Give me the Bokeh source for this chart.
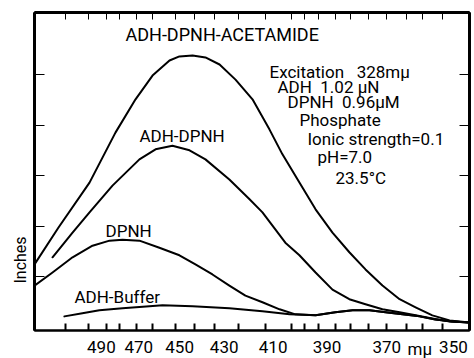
import numpy as np
from bokeh.plotting import figure
from bokeh.models import Range1d, FixedTicker, LinearAxis, Title, CustomJSTickFormatter, ColumnDataSource
from bokeh.core.properties import value
from bokeh.embed import file_html
from bokeh.resources import INLINE

# ---- data: wavelength (mμ) and recorder deflection (inches)
acet_wl = [530.3, 515.1, 496.7, 482.3, 471.7, 463.1, 454.8, 450.1, 444.0, 438.2, 432.0, 425.2,
           418.2, 411.4, 406.4, 400.0, 394.1, 388.1, 382.3, 376.9, 371.4, 366.0, 361.1, 356.1,
           351.1, 345.5]
acet_in = [1.24, 1.97, 2.86, 3.85, 4.51, 4.98, 5.28, 5.36, 5.38, 5.34, 5.20, 4.90,
           4.51, 3.91, 3.42, 2.86, 2.33, 1.87, 1.48, 1.14, 0.82, 0.55, 0.39, 0.23,
           0.13, 0.09]

adh_dpnh_wl = [518.8, 506.6, 496.7, 483.9, 469.7, 461.6, 453.4, 445.4, 438.2, 427.8, 419.4,
               414.2, 405.3, 400.0, 394.1, 388.1, 382.3, 376.9, 371.4, 366.0, 361.1, 356.1,
               351.1, 345.5]
adh_dpnh_in = [1.38, 1.87, 2.27, 2.80, 3.32, 3.52, 3.59, 3.50, 3.32, 2.92, 2.53,
               2.27, 1.67, 1.42, 1.08, 0.74, 0.55, 0.45, 0.35, 0.29, 0.23, 0.17,
               0.11, 0.09]

dpnh_wl = [530.3, 518.8, 506.6, 495.0, 485.5, 478.5, 469.7, 459.7, 450.1, 442.7, 435.1,
           427.8, 421.1, 414.2, 407.5, 401.5, 394.1, 387.1, 381.2, 375.6, 370.4, 365.1,
           359.9, 355.2, 350.3, 345.5]
dpnh_in = [0.82, 1.08, 1.38, 1.61, 1.71, 1.73, 1.71, 1.57, 1.42, 1.24, 1.04,
           0.82, 0.62, 0.49, 0.35, 0.25, 0.23, 0.29, 0.33, 0.33, 0.29, 0.25,
           0.21, 0.15, 0.11, 0.09]

buffer_wl = [511.5, 500.8, 491.1, 478.5, 464.6, 458.2, 444.0, 427.8, 414.2, 403.7, 394.1,
             387.1, 381.2, 375.6, 370.4, 365.1, 359.9, 355.2, 350.3, 345.5]
buffer_in = [0.21, 0.27, 0.33, 0.37, 0.41, 0.43, 0.41, 0.37, 0.31, 0.25, 0.23,
             0.29, 0.33, 0.33, 0.29, 0.25, 0.21, 0.15, 0.11, 0.09]

tick_wl = [490, 470, 450, 430, 410, 390, 370, 350]
minor_wl = [511, 497, 487, 480, 471, 463, 452, 443, 434, 424, 413, 403, 398, 393, 387,
            382, 376, 370, 364, 359, 353]
y_ticks = [1, 2, 3, 4, 5]


def wn(wl):
    # wavelength (mμ) -> wavenumber (cm^-1), the recorder's (linear) scale
    return [1e7 / w for w in wl]


X0, X1 = 1e7 / 530.3, 1e7 / 345.5
Y0, Y1 = -0.07, 6.23
FW, FH = 435, 318
FONT = "Roboto"


def fx(px):  # frame-relative pixel (frame left = 32) -> data x
    return X0 + (px - 32) / FW * (X1 - X0)


def fy(py):  # frame-relative pixel (frame bottom = 328) -> data y
    return Y0 + (328 - py) / FH * (Y1 - Y0)


p = figure(frame_width=FW, frame_height=FH,
           x_range=Range1d(X0, X1), y_range=Range1d(Y0, Y1),
           output_backend="svg", toolbar_location=None,
           x_axis_location=None, y_axis_location=None,
           min_border_left=34, min_border_right=5, min_border_top=12, min_border_bottom=28)
for g in p.grid:
    g.visible = False
p.outline_line_color = "black"
p.outline_line_width = 2
p.background_fill_color = "white"
p.border_fill_color = "white"

blank = CustomJSTickFormatter(code="return '';")

# bottom axis with wavelength labels
xb = LinearAxis(ticker=FixedTicker(ticks=wn(tick_wl), minor_ticks=wn(minor_wl)),
                formatter=CustomJSTickFormatter(code="return Math.round(1e7/tick).toString();"))
xb.axis_line_color = "black"
xb.axis_line_width = 2
xb.major_tick_line_color = None
xb.minor_tick_in = 7
xb.minor_tick_out = 0
xb.minor_tick_line_width = 2
xb.minor_tick_line_color = "black"
xb.major_label_text_font = FONT
xb.major_label_text_font_size = "17px"
xb.major_label_text_color = "black"
xb.major_label_standoff = 4
p.add_layout(xb, "below")

# top axis: inward ticks only
xt = LinearAxis(ticker=FixedTicker(ticks=wn(minor_wl), minor_ticks=[]), formatter=blank)
xt.axis_line_color = "black"
xt.axis_line_width = 3
xt.major_tick_in = 7
xt.major_tick_out = 0
xt.major_tick_line_color = "black"
p.add_layout(xt, "above")

for side in ("left", "right"):
    ya = LinearAxis(ticker=FixedTicker(ticks=y_ticks, minor_ticks=[]), formatter=blank)
    ya.axis_line_color = "black"
    ya.axis_line_width = 3
    ya.major_tick_in = 10
    ya.major_tick_out = 0
    ya.major_tick_line_color = "black"
    p.add_layout(ya, side)

# y-axis caption, placed low on the left side like the original
p.add_layout(Title(text="Inches", align="left", offset=47, standoff=9,
                   text_font=FONT, text_font_size="16px", text_font_style="normal",
                   text_color="black"), "left")

for wl, val in ((acet_wl, acet_in), (adh_dpnh_wl, adh_dpnh_in),
                (dpnh_wl, dpnh_in), (buffer_wl, buffer_in)):
    p.line(wn(wl), val, line_color="black", line_width=2, line_join="round", line_cap="round")

NB = "\u00a0"
title_txt = ["ADH-DPNH-ACETAMIDE"]
title_pos = [(123, 32)]
texts = ["Excitation" + NB * 3 + "328mμ", "ADH" + NB * 2 + "1.02 μN", "DPNH" + NB * 2 + "0.96μM",
         "Phosphate", "Ionic strength=0.1", "pH=7.0", "23.5°C",
         "ADH-DPNH", "DPNH", "ADH-Buffer", "mμ"]
text_pos = [(267, 69), (275, 84), (285, 99), (297, 117), (305, 136), (315, 154), (333, 175),
            (137, 133), (103, 228), (72, 294), (405, 346)]

for txt, pos, fs in ((title_txt, title_pos, "18px"), (texts, text_pos, "17px")):
    src = ColumnDataSource(dict(x=[fx(a) for a, b in pos], y=[fy(b) for a, b in pos], t=txt))
    r = p.text(x="x", y="y", text="t", source=src, text_font=value(FONT),
               text_font_size=value(fs), text_color="black", text_align="left",
               text_baseline="middle")
    r.level = "overlay"

open("out.html", "w").write(file_html(p, INLINE))
